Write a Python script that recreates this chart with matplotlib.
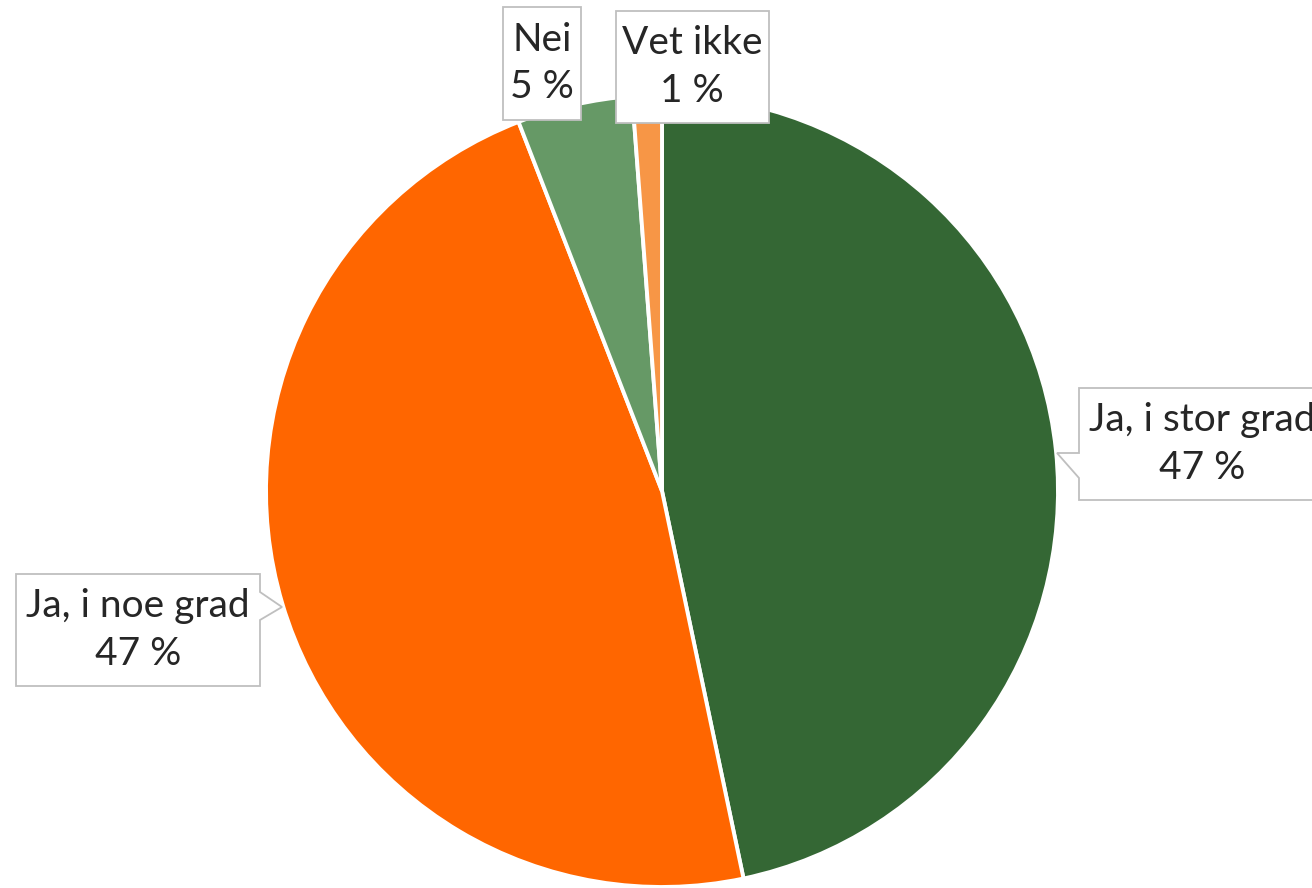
import matplotlib.pyplot as plt
from matplotlib.patches import Polygon

plt.rcParams['font.family'] = ['Lato', 'DejaVu Sans']

labels = ['Ja, i stor grad', 'Ja, i noe grad', 'Nei', 'Vet ikke']
values = [46.7, 47.4, 4.7, 1.2]
colors = ['#346734', '#ff6600', '#669966', '#f79646']

W, H = 1312, 888
fig = plt.figure(figsize=(W / 100, H / 100), dpi=100)
ax = fig.add_axes([0, 0, 1, 1])

cx, cy, r = 662, 491, 396
ax.pie(values, colors=colors, startangle=90, counterclock=False,
       center=(cx, H - cy), radius=r,
       wedgeprops=dict(edgecolor='white', linewidth=2.8))
ax.set_xlim(0, W)
ax.set_ylim(0, H)
ax.set_aspect('equal')
ax.axis('off')

# callout boxes in pixel coords (y down) + text centre x
boxes = {
    0: ([(1079, 388), (1330, 388), (1330, 500), (1079, 500), (1079, 478),
         (1057, 453), (1079, 453)], 1202),
    1: ([(16, 574), (260, 574), (260, 592), (282, 607), (260, 620),
         (260, 686), (16, 686)], 138),
    2: ([(503, 7), (581, 7), (581, 120), (503, 120)], 542),
    3: ([(616, 11), (769, 11), (769, 123), (616, 123)], 692),
}

for i, (pts, tx) in boxes.items():
    pts = [(x, H - y) for x, y in pts]
    poly = Polygon(pts, closed=True, facecolor='white', edgecolor='#bfbfbf',
                   linewidth=1.3, zorder=5, clip_on=False)
    ax.add_patch(poly)
    ys = [p[1] for p in pts]
    ty = (min(ys) + max(ys)) / 2
    txt = '%s\n%d %%' % (labels[i], round(values[i]))
    ax.text(tx, ty, txt, ha='center', va='center', fontsize=28,
            color='#262626', linespacing=1.4, zorder=6)

fig.savefig('out.png', dpi=100)
